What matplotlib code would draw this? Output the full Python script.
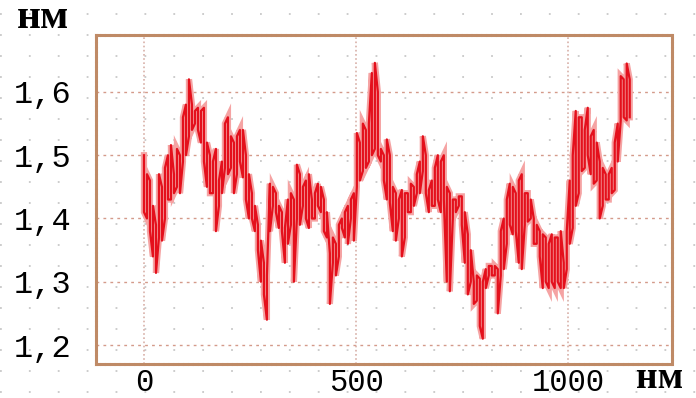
import numpy as np
import matplotlib.pyplot as plt

# height profile (nm), upper and lower edge of the trace at each scan step
scan_step = 7.07
y_top = [1.50, 1.47, 1.46, 1.42, 1.39, 1.47, 1.45, 1.48, 1.50, 1.516,
         1.47, 1.51, 1.50, 1.56, 1.58, 1.62, 1.58, 1.57, 1.575, 1.57,
         1.575, 1.52, 1.50, 1.49, 1.51, 1.46, 1.49, 1.55, 1.56, 1.53,
         1.52, 1.53, 1.54, 1.54, 1.50, 1.47, 1.44, 1.42, 1.39, 1.365,
         1.33, 1.31, 1.455, 1.45, 1.44, 1.42, 1.41, 1.385, 1.43, 1.44,
         1.43, 1.485, 1.47, 1.45, 1.46, 1.47, 1.43, 1.44, 1.455, 1.45,
         1.43, 1.41, 1.345, 1.37, 1.36, 1.39, 1.40, 1.41, 1.42, 1.43,
         1.44, 1.535, 1.52, 1.55, 1.54, 1.55, 1.63, 1.646, 1.60, 1.51,
         1.50, 1.525, 1.50, 1.45, 1.44, 1.43, 1.445, 1.44, 1.44, 1.455,
         1.45, 1.47, 1.49, 1.53, 1.50, 1.445, 1.46, 1.48, 1.50, 1.49,
         1.50, 1.45, 1.44, 1.43, 1.43, 1.435, 1.435, 1.41, 1.375, 1.35,
         1.30, 1.31, 1.305, 1.30, 1.32, 1.325, 1.325, 1.325, 1.32, 1.38,
         1.40, 1.43, 1.455, 1.45, 1.44, 1.46, 1.47, 1.44, 1.44, 1.43,
         1.40, 1.39, 1.38, 1.375, 1.37, 1.36, 1.375, 1.37, 1.37, 1.38,
         1.33, 1.38, 1.46, 1.50, 1.57, 1.56, 1.56, 1.54, 1.575, 1.53,
         1.54, 1.52, 1.49, 1.48, 1.47, 1.47, 1.48, 1.52, 1.55, 1.625,
         1.62, 1.645, 1.62]
y_bot = [1.41, 1.40, 1.38, 1.34, 1.314, 1.37, 1.365, 1.40, 1.43, 1.43,
         1.44, 1.45, 1.44, 1.49, 1.50, 1.53, 1.54, 1.55, 1.54, 1.52,
         1.49, 1.45, 1.44, 1.44, 1.38, 1.42, 1.44, 1.48, 1.47, 1.48,
         1.44, 1.47, 1.49, 1.465, 1.43, 1.40, 1.40, 1.38, 1.35, 1.30,
         1.28, 1.24, 1.38, 1.42, 1.41, 1.385, 1.38, 1.33, 1.36, 1.39,
         1.30, 1.40, 1.39, 1.42, 1.40, 1.385, 1.40, 1.40, 1.42, 1.41,
         1.38, 1.37, 1.265, 1.33, 1.31, 1.34, 1.385, 1.37, 1.36, 1.40,
         1.365, 1.45, 1.46, 1.475, 1.48, 1.49, 1.50, 1.51, 1.50, 1.49,
         1.46, 1.43, 1.425, 1.38, 1.365, 1.40, 1.34, 1.37, 1.41, 1.41,
         1.42, 1.44, 1.44, 1.475, 1.44, 1.41, 1.42, 1.42, 1.43, 1.41,
         1.43, 1.30, 1.285, 1.40, 1.41, 1.42, 1.39, 1.33, 1.28, 1.30,
         1.265, 1.27, 1.23, 1.21, 1.29, 1.31, 1.31, 1.31, 1.25, 1.31,
         1.32, 1.36, 1.39, 1.375, 1.38, 1.33, 1.32, 1.39, 1.395, 1.40,
         1.36, 1.36, 1.34, 1.29, 1.30, 1.29, 1.30, 1.29, 1.30, 1.29,
         1.29, 1.32, 1.36, 1.385, 1.42, 1.44, 1.475, 1.48, 1.50, 1.47,
         1.455, 1.46, 1.40, 1.42, 1.43, 1.43, 1.44, 1.445, 1.49, 1.555,
         1.56, 1.555, 1.56]

y_ticks = [1.2, 1.3, 1.4, 1.5, 1.6]
y_labels = ['1,2', '1,3', '1,4', '1,5', '1,6']
x_ticks = [0, 500, 1000]
x_labels = ['0', '500', '1000']

x = np.arange(len(y_top)) * scan_step
# zigzag through top/bottom so the trace looks like the scanned one
zx, zy = [], []
for i in range(len(x)):
    a, b = (y_top[i], y_bot[i]) if i % 2 == 0 else (y_bot[i], y_top[i])
    zx += [x[i], x[i]]
    zy += [a, b]

fig = plt.figure(figsize=(6.96, 3.98), dpi=100)

# dotted paper texture behind everything
bg = fig.add_axes([0, 0, 1, 1], zorder=0)
bg.set_xlim(0, 1)
bg.set_ylim(0, 1)
bg.axis('off')
for yy in np.arange(0.015, 1, 21 / 398):
    bg.axhline(yy, color='#c8c8c8', lw=1.3, ls=(0, (1, 15)))

ax = fig.add_axes([0.138, 0.0854, 0.8275, 0.8266], zorder=1)
ax.patch.set_alpha(0)
ax.plot(zx, zy, color='#f5a3a3', lw=4.5, zorder=2, solid_joinstyle='miter')
ax.plot(zx, zy, color='#e4101c', lw=1.6, zorder=3)

ax.set_xlim(-113, 1245)
ax.set_ylim(1.17, 1.69)

for v in y_ticks:
    ax.axhline(v, color='#d49a8a', lw=1, ls=(0, (2, 3)), zorder=1)
for v in x_ticks:
    ax.axvline(v, color='#d8b0a8', lw=1.2, ls=(0, (1, 1.5)), zorder=1)

for s in ax.spines.values():
    s.set_color('#bf8a66')
    s.set_linewidth(2.2)
    s.set_linestyle((0, (1, 0.6)))

ax.set_yticks(y_ticks)
ax.set_yticklabels(y_labels, family='Liberation Mono', fontsize=23)
ax.set_xticks(x_ticks)
ax.set_xticklabels(x_labels, family='Liberation Mono', fontsize=22)
ax.tick_params(length=0, pad=3)
ax.tick_params(axis='y', pad=18)

fig.text(0.024, 0.93, 'нм', family='Liberation Serif', weight='bold',
         fontsize=30, va='baseline')
fig.text(0.982, 0.006, 'нм', family='Liberation Serif', weight='bold',
         fontsize=27, va='bottom', ha='right')

fig.savefig('out.png', dpi=100)
